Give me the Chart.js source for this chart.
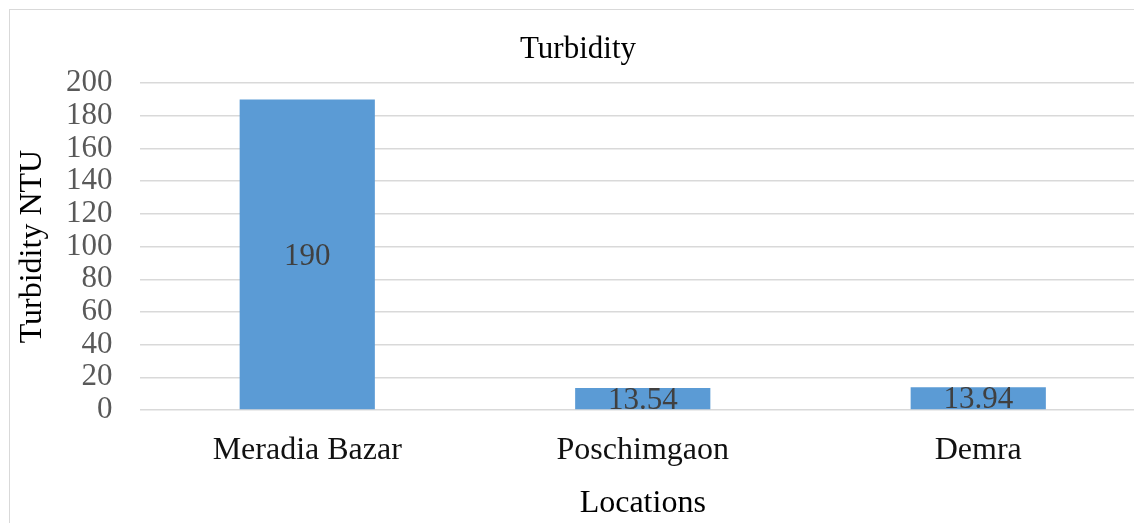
<!DOCTYPE html>
<html>
<head>
<meta charset="utf-8">
<script src="https://cdn.jsdelivr.net/npm/chart.js@4"></script>
<style>
  html, body { margin: 0; padding: 0; background: #fff; overflow: hidden; }
  #wrap { position: absolute; left: 0; top: 0; width: 1160px; height: 523px; }
  #frame { position: absolute; left: 9px; top: 9px; width: 1300px; height: 600px;
           border: 1.5px solid #d9d9d9; pointer-events: none; }
</style>
</head>
<body>
<div id="wrap"><canvas id="chart" width="1160" height="523"></canvas></div>
<div id="frame"></div>
<script>
// дані
const locations = ['Meradia Bazar', 'Poschimgaon', 'Demra'];
const turbidity = [190, 13.54, 13.94];
const yTicks = [0, 20, 40, 60, 80, 100, 120, 140, 160, 180, 200];

const serif = '"Liberation Serif", "Times New Roman", serif';

// підписи значень по центру стовпчиків
const barLabels = {
    id: 'barLabels',
    afterDatasetsDraw(chart) {
        const ctx = chart.ctx;
        const meta = chart.getDatasetMeta(0);
        ctx.save();
        ctx.font = '31px ' + serif;
        ctx.fillStyle = '#404040';
        ctx.textAlign = 'center';
        ctx.textBaseline = 'middle';
        meta.data.forEach((bar, i) => {
            const y = (bar.y + bar.base) / 2 + 2;
            ctx.fillText(String(turbidity[i]), bar.x, y);
        });
        ctx.restore();
    }
};

const ctx = document.getElementById('chart').getContext('2d');
new Chart(ctx, {
    type: 'bar',
    data: {
        labels: locations,
        datasets: [{
            label: 'Turbidity',
            data: turbidity,
            backgroundColor: '#5b9bd5',
            borderWidth: 0,
            categoryPercentage: 1,
            barPercentage: 0.403
        }]
    },
    options: {
        responsive: false,
        animation: false,
        layout: { padding: { left: 10, right: 14, top: 10, bottom: 0 } },
        plugins: {
            legend: { display: false },
            tooltip: { enabled: false },
            title: {
                display: true,
                text: 'Turbidity',
                color: '#000',
                font: { family: serif, size: 31, weight: 'normal' },
                padding: { top: 21, bottom: 15 }
            }
        },
        scales: {
            x: {
                grid: { display: false },
                border: { display: false },
                ticks: { color: '#111', font: { family: serif, size: 32 }, padding: 13, maxRotation: 0 },
                title: {
                    display: true,
                    text: 'Locations',
                    color: '#000',
                    font: { family: serif, size: 32 },
                    padding: { top: 0, bottom: 0 }
                },
                afterFit(scale) { scale.height = 113; }
            },
            y: {
                min: 0,
                max: 200,
                afterBuildTicks(scale) { scale.ticks = yTicks.map(v => ({ value: v })); },
                grid: { color: '#d9d9d9', lineWidth: 1.5, drawTicks: false },
                border: { display: false },
                ticks: { color: '#595959', font: { family: serif, size: 31 }, padding: 27, autoSkip: false },
                title: {
                    display: true,
                    text: 'Turbidity NTU',
                    color: '#000',
                    font: { family: serif, size: 32 },
                    padding: { top: 3, bottom: 0 }
                },
                afterFit(scale) { scale.width = 129.5; }
            }
        }
    },
    plugins: [barLabels]
});
</script>
</body>
</html>
